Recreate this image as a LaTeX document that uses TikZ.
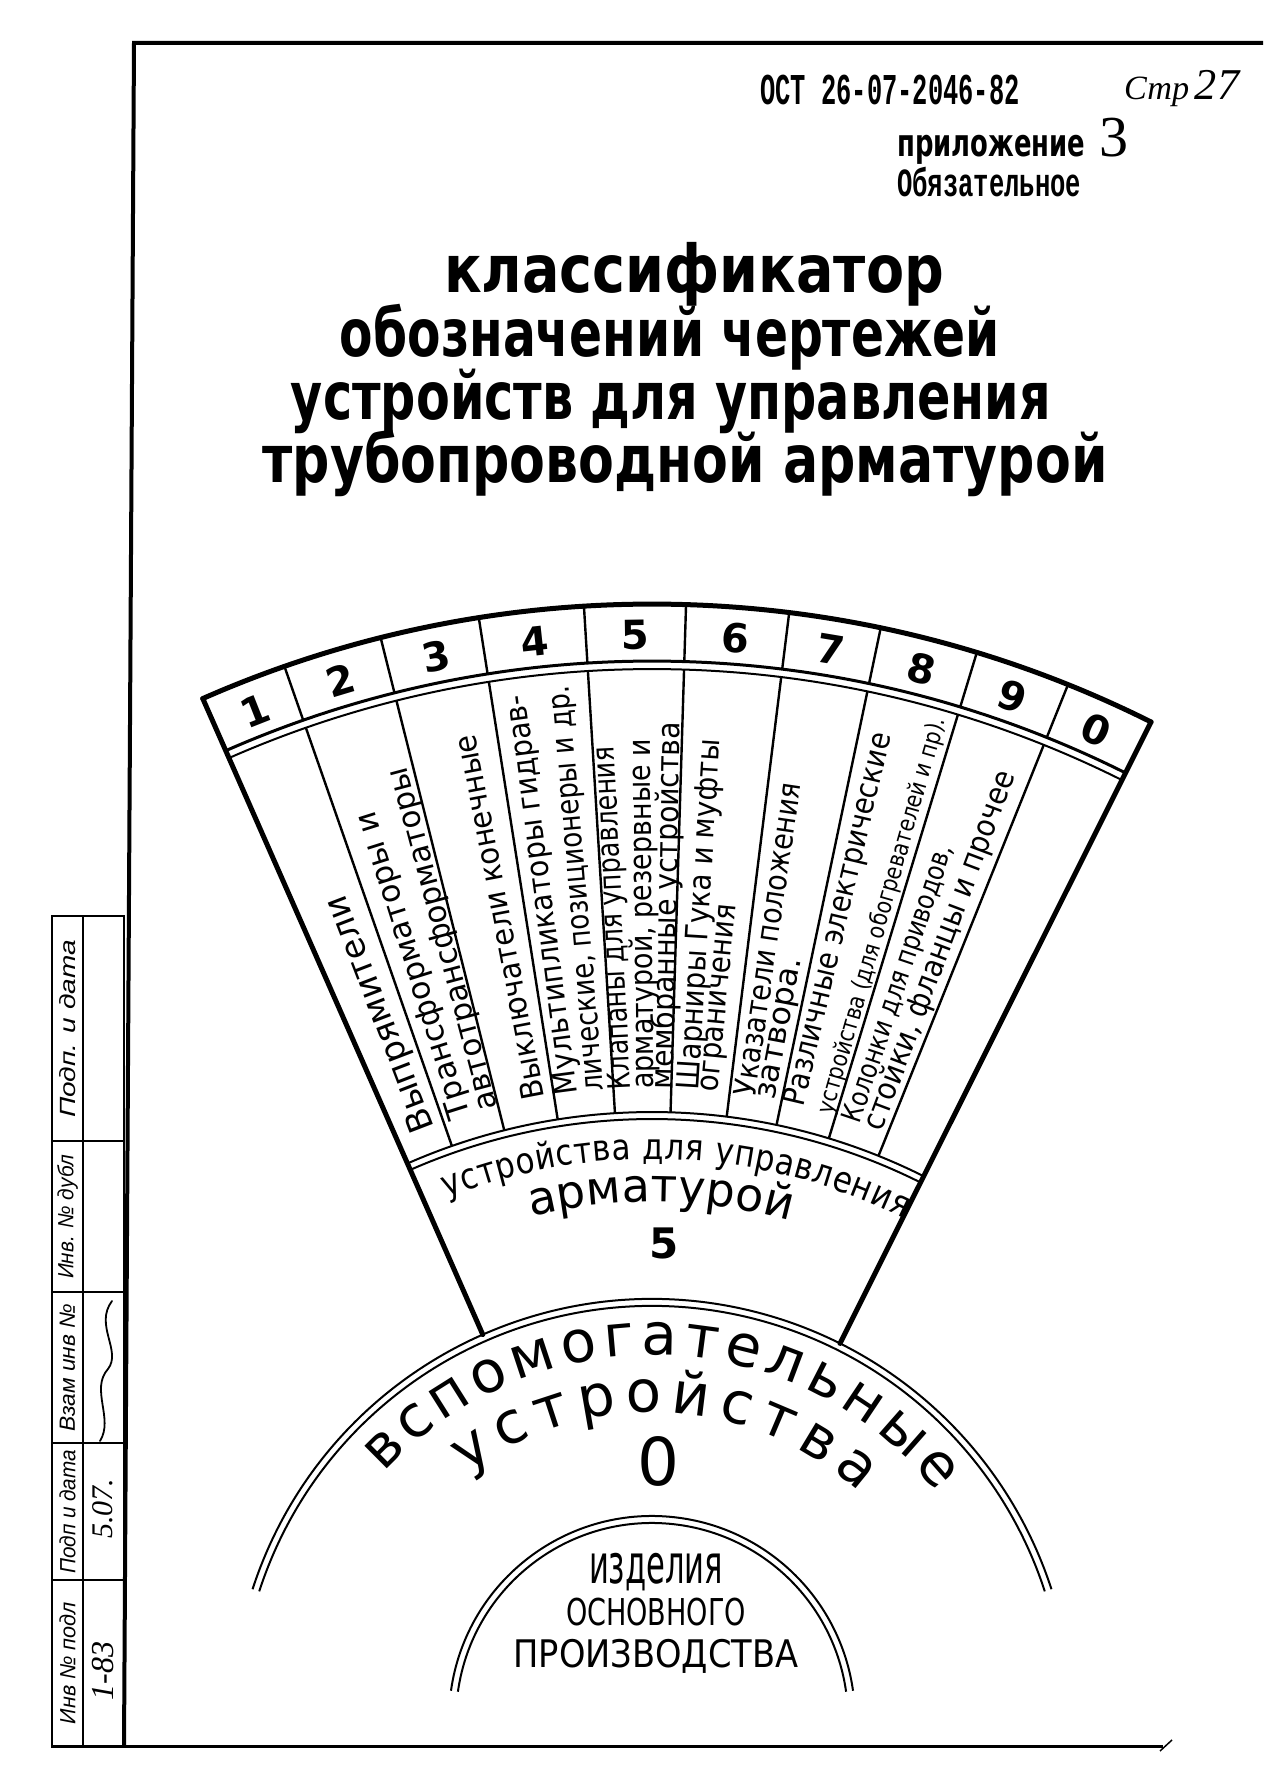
\documentclass[tikz,border=0pt]{standalone}
\usepackage{fontspec}
\usepackage{graphicx}
\setmainfont{DejaVu Sans}
\newfontfamily\draftfont{DejaVu Sans}
\newfontfamily\draftnarrow[FakeStretch=0.86]{DejaVu Sans}
\newfontfamily\typefont{Liberation Mono}
\newfontfamily\handfont{Liberation Serif}
\newfontfamily\stampfont{Liberation Sans}
\usetikzlibrary{decorations.text}
\newcommand{\fitw}[2]{\resizebox{#1}{\height}{#2}}
\newcommand{\fsz}[1]{\fontsize{#1}{#1}\selectfont}
\tikzset{
  frameline/.style={line width=4pt},
  fanline/.style={line width=5pt, line cap=round},
  divline/.style={line width=2.4pt},
  dblthick/.style={line width=3pt},
  dblthin/.style={line width=2pt},
  titletxt/.style={inner sep=0pt, anchor=base, font=\draftfont\bfseries\fsz{66}},
  numtxt/.style={inner sep=0pt, font=\draftfont\bfseries\fsz{40}},
  striptxt/.style={inner sep=0pt, anchor=west, font=\draftfont},
  stamptxt/.style={inner sep=0pt, rotate=90, font=\stampfont\itshape\fsz{22}},
}
\begin{document}
\begin{tikzpicture}[x=1pt,y=1pt]
    \useasboundingbox (0,0) rectangle (1263,1771);
    \fill[white] (0,0) rectangle (1263,1771);

    % Рамка листа
    \draw[frameline] (1263,1728) -- (134,1728) -- (124,24);
    \draw[line width=3pt] (51,24) -- (1163,24);
    \draw[line width=1.5pt] (1160,20) -- (1172,31);

    % Штамп слева
    \draw[line width=2.5pt] (52,855) rectangle (124,24);
    \draw[line width=2pt] (83,855) -- (83,24);
    \foreach \y in {630,479,328,191}
        \draw[line width=2pt] (52,\y) -- (124,\y);
    \node[stamptxt] (stamp1) at (67.5,742) {\fitw{178pt}{Подп. и дата}};
    \node[stamptxt] (stamp2) at (67.5,554) {\fitw{124pt}{Инв. № дубл}};
    \node[stamptxt] (stamp3) at (67.5,403) {\fitw{128pt}{Взам инв №}};
    \node[stamptxt] (stamp4) at (67.5,259) {\fitw{124pt}{Подп и дата}};
    \node[stamptxt] (stamp5) at (67.5,108) {\fitw{122pt}{Инв № подл}};
    \node[stamptxt, font=\handfont\itshape\fsz{30}] (val4) at (103,262) {5.07.};
    \node[stamptxt, font=\handfont\itshape\fsz{32}] (val5) at (103,100) {1-83};
    \draw[line width=1.8pt, line cap=round] (100,330) .. controls (114,352) and (90,382) .. (108,402)
        .. controls (122,420) and (94,446) .. (112,470);

    % Шапка
    \node[inner sep=0pt, anchor=base, font=\typefont\bfseries\fsz{44}] (ost) at (890,1666) {\fitw{259pt}{ОСТ 26-07-2046-82}};
    \node[inner sep=0pt, anchor=base west, font=\handfont\itshape] (page) at (1124,1671) {\fitw{115pt}{\fsz{34}Стр\,\fsz{44}27}};
    \node[inner sep=0pt, anchor=base west] (app) at (897,1614) {\fitw{188pt}{\draftfont\bfseries\fsz{38}приложение}\hspace{14pt}{\handfont\fsz{58}3}};
    \node[inner sep=0pt, anchor=base west, font=\typefont\bfseries\fsz{40}] (oblig) at (897,1574) {\fitw{184pt}{Обязательное}};

    % Заголовок
    \node[titletxt] (title1) at (694,1478) {\fitw{500pt}{классификатор}};
    \node[titletxt] (title2) at (670,1414) {\fitw{660pt}{обозначений чертежей}};
    \node[titletxt] (title3) at (671,1351) {\fitw{760pt}{устройств для управления}};
    \node[titletxt] (title4) at (685,1288) {\fitw{845pt}{трубопроводной арматурой}};

    % Веер группы 5
    \coordinate (C) at (652,52);
    \draw[fanline] ([shift={(113.76:1115)}]C) arc[start angle=113.76, end angle=63.41, radius=1115];
    \draw[fanline] ([shift={(113.76:1115)}]C) -- ([shift={(113.76:420)}]C);
    \draw[fanline] ([shift={(63.41:1115)}]C) -- ([shift={(63.41:420)}]C);
    \draw[dblthick] ([shift={(113.76:1058)}]C) arc[start angle=113.76, end angle=63.41, radius=1058];
    \draw[dblthin] ([shift={(113.76:1050)}]C) arc[start angle=113.76, end angle=63.41, radius=1050];
    \draw[dblthin] ([shift={(113.76:607)}]C) arc[start angle=113.76, end angle=63.41, radius=607];
    \draw[dblthin] ([shift={(113.76:600)}]C) arc[start angle=113.76, end angle=63.41, radius=600];
    \foreach \a in {109.25,104.09,98.94,93.50,88.25,82.93,78.16,73.06,68.09} {
        \draw[divline] ([shift={(\a:1115)}]C) -- ([shift={(\a:1058)}]C);
        \draw[divline] ([shift={(\a:1050)}]C) -- ([shift={(\a:607)}]C);
    }

    % Номера подгрупп
    \foreach \m/\n [count=\k] in {111.5/1,106.7/2,101.5/3,96.2/4,90.9/5,85.6/6,80.5/7,75.6/8,70.6/9,65.8/0}
        \node[numtxt, rotate=\m-90] (num\k) at ([shift={(\m:1084)}]C) {\n};

    % Наименования подгрупп
    \foreach \ang/\len/\sz/\txt [count=\k] in {
        111.0/250/34/{Выпрямители},
        107.5/320/31/{Трансформаторы и},
        104.9/354/31/{автотрансформаторы},
        100.8/371/31/{Выключатели конечные},
        97.5/402/31/{Мультипликаторы гидрав-},
        94.9/407/31/{лические, позиционеры и др.},
        92.7/343/31/{Клапаны для управления},
        90.6/350/31/{арматурой, резервные и},
        88.9/367/31/{мембранные устройства},
        86.5/351/31/{Шарниры Гука и муфты},
        84.5/188/31/{ограничения},
        81.6/316/31/{Указатели положения},
        79.3/144/31/{затвора.},
        76.8/382/31/{Различные электрические},
        74.0/411/24/{устройства (для обогревателей и пр).},
        71.4/291/28/{Колонки для приводов,},
        69.4/381/31/{стойки, фланцы и прочее}}
        \node[striptxt, rotate=\ang] (line\k) at ([shift={(\ang:630)}]C) {\fsz{\sz}\fitw{\len pt}{\txt}};

    % Группа 5
    \path[decorate, decoration={text along path, text={|\draftnarrow\fsz{36}|устройства для управления}, text align=fit to path}]
        ([shift={(111.5:560)}]C) arc[start angle=111.5, end angle=63.3, radius=560];
    \path[decorate, decoration={text along path, text={|\draftfont\fsz{46}|арматурой}, text align=fit to path}]
        ([shift={(103.5:517)}]C) arc[start angle=103.5, end angle=75, radius=517];
    \node[font=\draftfont\bfseries\fsz{42}, inner sep=0pt] (grp5) at (664,528) {5};

    % Группа 0
    \draw[dblthin] ([shift={(162:420)}]C) arc[start angle=162, end angle=18, radius=420];
    \draw[dblthin] ([shift={(162:413)}]C) arc[start angle=162, end angle=18, radius=413];
    \path[decorate, decoration={text along path, text={|\draftfont\fsz{58}|вспомогательные}, text align=fit to path}]
        ([shift={(137.5:364)}]C) arc[start angle=137.5, end angle=38.5, radius=364];
    \path[decorate, decoration={text along path, text={|\draftfont\fsz{58}|устройства}, text align=fit to path}]
        ([shift={(127:307)}]C) arc[start angle=127, end angle=47.5, radius=307];
    \node[font=\draftfont\fsz{66}, inner sep=0pt] (grp0) at (658,310) {0};

    % Изделия основного производства
    \draw[dblthin] ([shift={(172:203)}]C) arc[start angle=172, end angle=8, radius=203];
    \draw[dblthin] ([shift={(172:196)}]C) arc[start angle=172, end angle=8, radius=196];
    \node[inner sep=0pt, anchor=base, font=\draftfont] (prod1) at (656,187) {\fitw{134pt}{\fsz{54}изделия}};
    \node[inner sep=0pt, anchor=base, font=\draftfont] (prod2) at (656,145) {\fitw{180pt}{\fsz{37}ОСНОВНОГО}};
    \node[inner sep=0pt, anchor=base, font=\draftfont] (prod3) at (656,103) {\fitw{285pt}{\fsz{38}ПРОИЗВОДСТВА}};
\end{tikzpicture}
\end{document}
